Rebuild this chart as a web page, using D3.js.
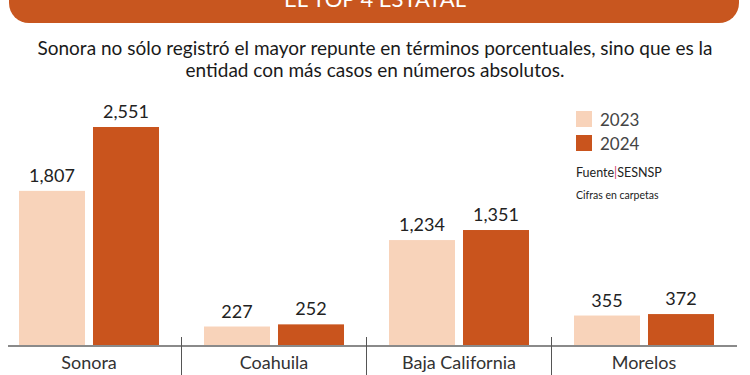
<!DOCTYPE html>
<html>
<head>
<meta charset="utf-8">
<script src="https://cdn.jsdelivr.net/npm/d3@7"></script>
<style>
  body { margin: 0; background: #fff; }
  svg { display: block; font-family: Lato, "Open Sans", sans-serif; }
</style>
</head>
<body>
<div id="chart"></div>
<script>
// data
var estados = ["Sonora", "Coahuila", "Baja California", "Morelos"];
var anios = ["2023", "2024"];
var casos2023 = [1807, 227, 1234, 355];
var casos2024 = [2551, 252, 1351, 372];

var colores = ["#f8d3ba", "#c9541d"];
const width = 750, height = 375;
const base_y = 346;

var svg = d3.select("#chart")
  .append("svg")
  .attr("width", width)
  .attr("height", height);

// header band (cut at the top)
svg.append("rect")
  .attr("x", 9).attr("y", -30)
  .attr("width", 730).attr("height", 53)
  .attr("rx", 20)
  .attr("fill", "#c8561f");

svg.append("text")
  .attr("x", 375).attr("y", 7)
  .attr("text-anchor", "middle")
  .attr("fill", "#fff")
  .attr("font-size", 22)
  .text("EL TOP 4 ESTATAL");

var sub = svg.append("text")
  .attr("text-anchor", "middle")
  .attr("fill", "#1a1a1a")
  .attr("font-size", 19);
sub.append("tspan").attr("x", 375).attr("y", 55)
  .text("Sonora no sólo registró el mayor repunte en términos porcentuales, sino que es la");
sub.append("tspan").attr("x", 375).attr("y", 77)
  .text("entidad con más casos en números absolutos.");

// scales
const x0 = d3.scaleBand()
  .domain(estados)
  .range([-3.5, 736.5])
  .paddingInner(0.2432)
  .paddingOuter(0.1216);

const x1 = d3.scaleBand()
  .domain(anios)
  .range([0, x0.bandwidth()])
  .paddingInner(0.108);

const y = d3.scaleLinear()
  .domain([0, d3.max(casos2024)])
  .range([base_y, 127]);

var filas = estados.map(function (e, i) {
  return { estado: e, valores: [casos2023[i], casos2024[i]] };
});

var grupos = svg.selectAll("g.grupo")
  .data(filas)
  .enter()
  .append("g")
  .attr("class", "grupo")
  .attr("transform", d => "translate(" + x0(d.estado) + ",0)");

grupos.selectAll("rect")
  .data(d => d.valores.map((v, j) => ({ anio: anios[j], v: v, j: j })))
  .enter()
  .append("rect")
  .attr("x", d => x1(d.anio))
  .attr("y", d => y(d.v))
  .attr("width", x1.bandwidth())
  .attr("height", d => base_y - y(d.v))
  .attr("fill", d => colores[d.j]);

grupos.selectAll("text.valor")
  .data(d => d.valores.map((v, j) => ({ anio: anios[j], v: v })))
  .enter()
  .append("text")
  .attr("class", "valor")
  .attr("x", d => x1(d.anio) + x1.bandwidth() / 2)
  .attr("y", d => y(d.v) - 9)
  .attr("text-anchor", "middle")
  .attr("font-size", 18)
  .attr("fill", "#222")
  .text(d => d3.format(",")(d.v));

// axis line and separators
svg.append("line")
  .attr("x1", 8).attr("x2", 737)
  .attr("y1", base_y).attr("y2", base_y)
  .attr("stroke", "#8a8a8a").attr("stroke-width", 2);

var step = x0.step();
svg.selectAll("line.sep")
  .data(estados.slice(1))
  .enter()
  .append("line")
  .attr("class", "sep")
  .attr("x1", d => x0(d) - (step - x0.bandwidth()) / 2)
  .attr("x2", d => x0(d) - (step - x0.bandwidth()) / 2)
  .attr("y1", 337).attr("y2", height)
  .attr("stroke", "#555").attr("stroke-width", 1);

svg.selectAll("text.cat")
  .data(estados)
  .enter()
  .append("text")
  .attr("class", "cat")
  .attr("x", d => x0(d) + x0.bandwidth() / 2)
  .attr("y", 369)
  .attr("text-anchor", "middle")
  .attr("font-size", 18)
  .attr("fill", "#333")
  .text(d => d);

// legend
var leyenda = svg.selectAll("g.ley")
  .data(anios)
  .enter()
  .append("g")
  .attr("class", "ley")
  .attr("transform", (d, i) => "translate(576," + (111 + i * 24) + ")");

leyenda.append("rect")
  .attr("width", 16).attr("height", 16)
  .attr("fill", (d, i) => colores[i]);

leyenda.append("text")
  .attr("x", 24).attr("y", 15)
  .attr("font-size", 17)
  .attr("fill", "#444")
  .text(d => d);

// source notes
var fuente = svg.append("text")
  .attr("x", 576).attr("y", 177)
  .attr("font-size", 12.5)
  .attr("fill", "#222");
fuente.append("tspan").text("Fuente");
fuente.append("tspan").attr("fill", "#d04070").text("|");
fuente.append("tspan").text("SESNSP");

svg.append("text")
  .attr("x", 576).attr("y", 199)
  .attr("font-size", 10.5)
  .attr("fill", "#222")
  .text("Cifras en carpetas");
</script>
</body>
</html>
